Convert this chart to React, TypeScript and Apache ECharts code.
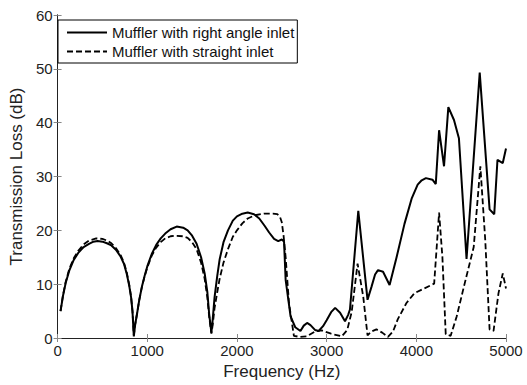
import React, { useEffect, useRef } from "react";
import * as echarts from "echarts";

const rightAngleFreq = [33, 60, 90, 130, 180, 230, 290, 350, 400, 445, 500, 550, 600, 650, 700, 740, 770, 800, 820, 835, 850, 865, 887, 910, 940, 970, 1000, 1050, 1100, 1150, 1200, 1260, 1328, 1400, 1450, 1500, 1550, 1600, 1640, 1670, 1690, 1715, 1730, 1750, 1780, 1807, 1850, 1900, 1954, 2000, 2060, 2120, 2190, 2249, 2310, 2359, 2414, 2460, 2500, 2525, 2543, 2598, 2650, 2708, 2745, 2782, 2820, 2870, 2911, 2960, 3000, 3050, 3095, 3150, 3205, 3240, 3260, 3353, 3456, 3500, 3540, 3573, 3629, 3702, 3780, 3868, 3950, 4015, 4060, 4107, 4180, 4217, 4254, 4309, 4357, 4420, 4475, 4560, 4707, 4817, 4869, 4905, 4964, 5000];
const rightAngleTL = [5.0, 7.8, 10.2, 12.5, 14.5, 15.8, 16.9, 17.5, 17.9, 18.0, 17.9, 17.6, 17.2, 16.4, 15.2, 13.8, 12.0, 9.6, 7.5, 5.0, 0.3, 2.5, 4.6, 7.0, 9.5, 11.5, 13.3, 15.6, 17.3, 18.5, 19.4, 20.2, 20.7, 20.5, 20.0, 19.0, 17.5, 15.0, 12.0, 8.5, 4.5, 1.0, 3.5, 7.5, 11.5, 14.6, 17.8, 20.0, 21.8, 22.6, 23.1, 23.3, 23.0, 22.2, 20.8, 19.6, 18.4, 18.0, 18.3, 17.9, 10.8, 4.0, 2.0, 1.3, 2.3, 2.8, 2.4, 1.5, 1.3, 2.2, 3.3, 4.8, 5.6, 4.7, 3.1, 4.3, 5.3, 23.6, 7.1, 9.5, 11.8, 12.6, 12.3, 9.85, 15.0, 21.2, 26.0, 28.5, 29.3, 29.7, 29.4, 28.6, 38.6, 31.9, 42.9, 40.5, 37.1, 14.7, 49.3, 23.9, 23.0, 33.1, 32.5, 35.2];

const straightFreq = [33, 60, 90, 130, 180, 230, 290, 350, 430, 500, 550, 600, 650, 700, 740, 770, 800, 820, 835, 850, 865, 887, 910, 940, 970, 1000, 1050, 1100, 1150, 1200, 1260, 1300, 1400, 1450, 1500, 1550, 1600, 1640, 1670, 1690, 1715, 1730, 1750, 1780, 1807, 1850, 1900, 1954, 2000, 2060, 2120, 2200, 2300, 2400, 2450, 2480, 2500, 2520, 2543, 2580, 2635, 2700, 2780, 2870, 2947, 3050, 3169, 3230, 3279, 3345, 3408, 3456, 3500, 3555, 3620, 3684, 3740, 3794, 3890, 3978, 4088, 4199, 4254, 4291, 4328, 4383, 4450, 4530, 4640, 4714, 4769, 4817, 4861, 4916, 4964, 5000];
const straightTL = [5.0, 7.9, 10.4, 12.8, 14.8, 16.2, 17.4, 18.1, 18.5, 18.4, 18.1, 17.6, 16.7, 15.5, 14.0, 12.3, 9.8, 7.6, 5.0, 0.5, 2.5, 4.6, 7.0, 9.5, 11.4, 13.1, 15.3, 16.8, 17.8, 18.5, 18.9, 19.0, 18.9, 18.6, 17.8, 16.5, 14.0, 11.0, 7.5, 4.0, 0.8, 2.5, 5.5, 8.5, 11.0, 14.0, 16.5, 18.8, 20.0, 21.3, 22.2, 22.8, 23.1, 23.1, 23.0, 22.5, 21.5, 19.0, 15.0, 6.5, 0.4, 0.2, 0.3, 1.2, 1.4, 0.8, 0.3, 1.5, 4.8, 13.8, 7.7, 0.5, 1.2, 1.6, 1.0, 0.2, 1.2, 3.5, 6.5, 8.3, 9.2, 10.1, 23.3, 15.0, 0.7, 0.4, 4.0, 9.5, 16.9, 31.9, 18.1, 1.6, 1.3, 8.3, 12.0, 9.2];

const seriesNames = ["Muffler with right angle inlet", "Muffler with straight inlet"];
const xTicks = { min: 0, max: 5000, interval: 1000 };
const yTicks = { min: 0, max: 60, interval: 10 };

const FONT = "Liberation Sans, Arial, Helvetica, sans-serif";

export default function App() {
  const ref = useRef<HTMLDivElement>(null);
  useEffect(() => {
    document.body.style.margin = "0";
    if (!ref.current) return;
    const chart = echarts.init(ref.current, undefined, { renderer: "svg" });
    const axisLine = { show: true, lineStyle: { color: "#222", width: 1 } };
    const tick = { show: true, inside: true, length: 4, lineStyle: { color: "#888", width: 1 } };
    const label = { color: "#222", fontSize: 15, fontFamily: FONT, formatter: (v: number) => String(v) };
    chart.setOption({
      animation: false,
      backgroundColor: "#fff",
      grid: { left: 53, right: 21, top: 15, bottom: 43 },
      legend: {
        show: true,
        orient: "vertical",
        left: 58,
        top: 20,
        itemWidth: 40,
        itemHeight: 10,
        itemGap: 4,
        padding: [5, 3, 4, 8],
        borderColor: "#000",
        borderWidth: 1,
        backgroundColor: "#fff",
        itemStyle: { color: "rgba(0,0,0,0)", borderColor: "rgba(0,0,0,0)", borderWidth: 0 },
        textStyle: { color: "#111", fontSize: 15, fontFamily: FONT },
        data: seriesNames,
      },
      xAxis: [
        {
          type: "value",
          ...xTicks,
          name: "Frequency (Hz)",
          nameLocation: "middle",
          nameGap: 25,
          nameTextStyle: { color: "#222", fontSize: 17, fontFamily: FONT },
          axisLine,
          axisTick: tick,
          axisLabel: { ...label, margin: 5 },
          splitLine: { show: false },
        },
        {
          type: "value",
          position: "top",
          ...xTicks,
          axisLine,
          axisTick: tick,
          axisLabel: { show: false },
          splitLine: { show: false },
        },
      ],
      yAxis: [
        {
          type: "value",
          ...yTicks,
          name: "Transmission Loss (dB)",
          nameLocation: "middle",
          nameGap: 29,
          nameTextStyle: { color: "#222", fontSize: 17, fontFamily: FONT },
          axisLine,
          axisTick: tick,
          axisLabel: { ...label, margin: 5 },
          splitLine: { show: false },
        },
        {
          type: "value",
          position: "right",
          ...yTicks,
          axisLine,
          axisTick: tick,
          axisLabel: { show: false },
          splitLine: { show: false },
        },
      ],
      series: [
        {
          name: seriesNames[0],
          type: "line",
          showSymbol: false,
          symbol: "none",
          data: rightAngleFreq.map((f, i) => [f, rightAngleTL[i]]),
          lineStyle: { color: "#000", width: 2 },
          itemStyle: { color: "#000" },
          z: 3,
        },
        {
          name: seriesNames[1],
          type: "line",
          showSymbol: false,
          symbol: "none",
          data: straightFreq.map((f, i) => [f, straightTL[i]]),
          lineStyle: { color: "#000", width: 1.8, type: [6, 3] },
          itemStyle: { color: "#000" },
          z: 2,
        },
      ],
    });
    return () => chart.dispose();
  }, []);
  return <div ref={ref} style={{ width: 527, height: 385 }} />;
}
